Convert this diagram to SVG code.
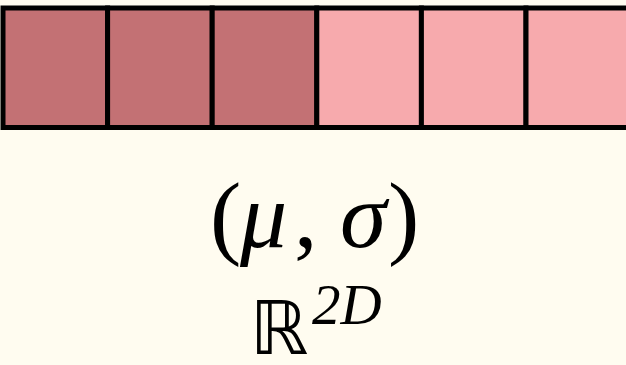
<svg xmlns="http://www.w3.org/2000/svg" width="626" height="365" viewBox="0 0 626 365">
<style>
.dark{fill:#C37174}
.light{fill:#F7AAAD}
.cell{stroke:#000;stroke-width:5}
.t{font-family:"Liberation Serif","DejaVu Serif",serif;fill:#000}
.i{font-style:italic}
</style>
<rect width="626" height="365" fill="#FFFCF0"/>
<g id="cells">
<g id="cell1"><rect class="cell dark" x="3" y="8" width="104.6" height="119.5"/></g>
<g id="cell2"><rect class="cell dark" x="107.6" y="8" width="104.6" height="119.5"/></g>
<g id="cell3"><rect class="cell dark" x="212.2" y="8" width="104.6" height="119.5"/></g>
<g id="cell4"><rect class="cell light" x="316.8" y="8" width="104.6" height="119.5"/></g>
<g id="cell5"><rect class="cell light" x="421.4" y="8" width="104.6" height="119.5"/></g>
<g id="cell6"><rect class="cell light" x="526" y="8" width="104.6" height="119.5"/></g>
</g>
<g id="label">
<text class="t" y="247" font-size="94"><tspan x="210">(</tspan><tspan class="i" x="240">μ</tspan><tspan x="294">,</tspan><tspan class="i" x="340">σ</tspan><tspan x="388">)</tspan></text>
<text x="279" y="354" font-size="74" text-anchor="middle" font-family="DejaVu Sans, sans-serif">ℝ</text>
<text class="t i" x="312" y="324" font-size="57">2D</text>
</g>
</svg>
